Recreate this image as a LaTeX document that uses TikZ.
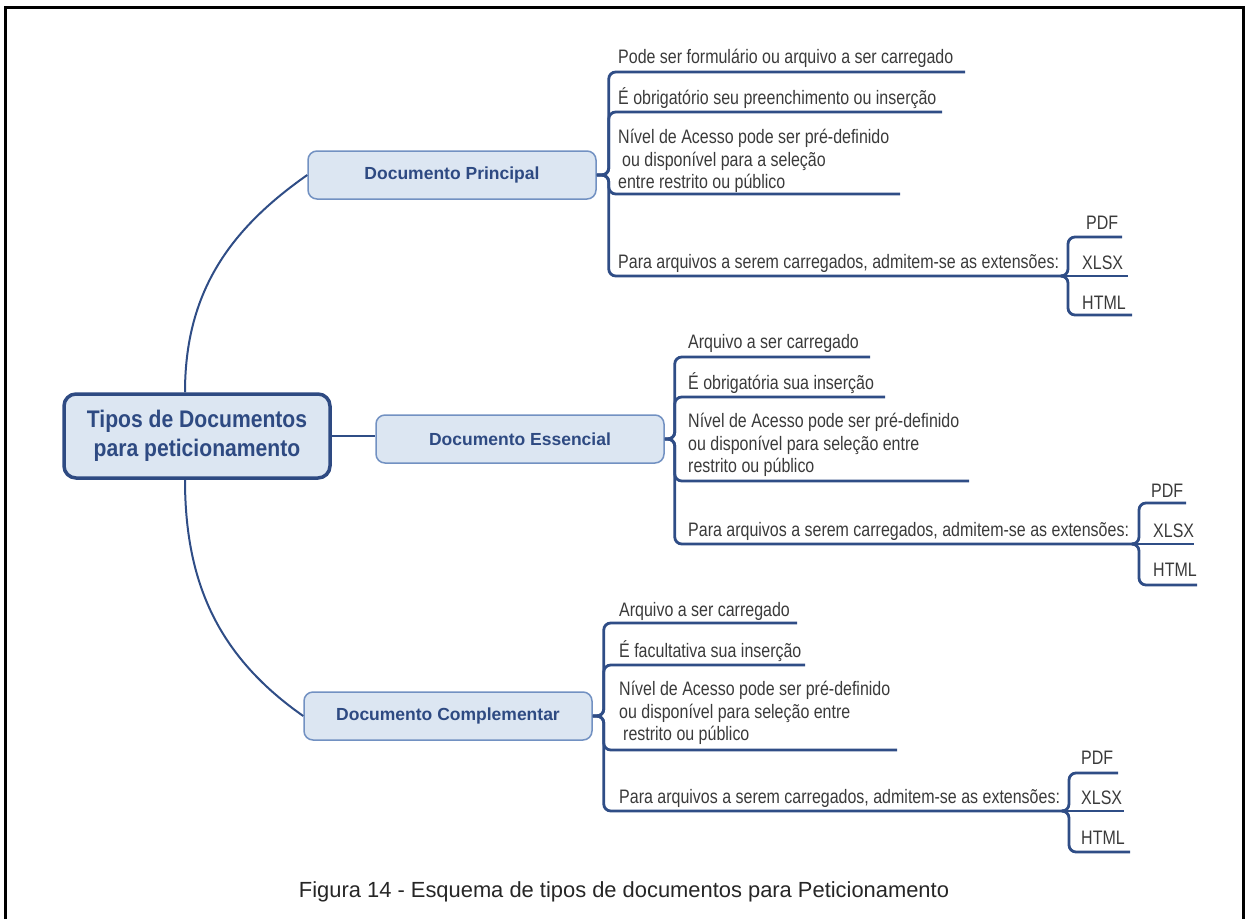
\documentclass[tikz,border=0pt]{standalone}
\usepackage{fontspec}
\setmainfont{Liberation Sans}
\newfontfamily\narrowfont[FakeStretch=0.82]{Liberation Sans}
\newfontfamily\rootfont[FakeStretch=0.88]{Liberation Sans}
\definecolor{linkblue}{HTML}{2F4D86}
\definecolor{boxfill}{HTML}{DCE6F2}
\definecolor{boxline}{HTML}{7291C2}
\definecolor{titleblue}{HTML}{2E4A82}
\definecolor{leafgrey}{HTML}{3A3A3A}
\tikzset{
  central/.style={draw=titleblue,line width=3.5pt,fill=boxfill,rounded corners=12pt,
    minimum width=266pt,minimum height=84pt,align=center,text=titleblue,
    font=\rootfont\fontsize{24}{29}\selectfont\bfseries},
  topic/.style={draw=boxline,line width=1.5pt,fill=boxfill,rounded corners=9pt,
    minimum width=288pt,minimum height=48pt,text=titleblue,
    font=\fontsize{17.5}{21}\selectfont\bfseries},
  leaf/.style={anchor=west,inner sep=0pt,align=left,text=leafgrey,
    font=\narrowfont\fontsize{19.5}{22.5}\selectfont},
  link/.style={draw=linkblue,line width=2pt},
  branch/.style={draw=linkblue,line width=2.8pt,rounded corners=7pt},
}
\begin{document}
\begin{tikzpicture}[x=1pt,y=-1pt]
  \useasboundingbox (0,0) rectangle (1245,919);
  \draw[line width=3pt] (5,919) -- (5,7) -- (1243,7) -- (1243,919);

  \node[central] (root) at (197,436) {Tipos de Documentos\\para peticionamento};
  \node[topic] (dp) at (452,175) {Documento Principal};
  \node[topic] (de) at (520,439) {Documento Essencial};
  \node[topic] (dc) at (448,716) {Documento Complementar};

  \draw[link] ([xshift=-12pt]root.north) to[out=90,in=215] (dp.west);
  \draw[link] (root.east) -- (root.east -| de.west);
  \draw[link] ([xshift=-12pt]root.south) to[out=270,in=145] (dc.west);

  % Documento Principal
  \node[leaf] (p1) at (618,58) {Pode ser formulário ou arquivo a ser carregado};
  \node[leaf] (p2) at (618,98) {É obrigatório seu preenchimento ou inserção};
  \node[leaf] (p3) at (618,161) {Nível de Acesso pode ser pré-definido\\\hspace*{4pt}ou disponível para a seleção\\entre restrito ou público};
  \node[leaf] (p4) at (618,263) {Para arquivos a serem carregados, admitem-se as extensões:};
  \node[leaf] (p4a) at (1086,223) {PDF};
  \node[leaf] (p4b) at (1082,263) {XLSX};
  \node[leaf] (p4c) at (1082,303) {HTML};
  \coordinate (p1e) at (965,72);
  \coordinate (p2e) at (942,112);
  \coordinate (p3e) at (900,194);
  \coordinate (p4e) at (1063,276);
  \draw[branch] (dp.east) -- ++(12,0) |- (p1e);
  \draw[branch] (dp.east) -- ++(12,0) |- (p2e);
  \draw[branch] (dp.east) -- ++(12,0) |- (p3e);
  \draw[branch] (dp.east) -- ++(12,0) |- (p4e);
  \draw[branch] (p4e) -- ++(5,0) |- (1122,237);
  \draw[branch] (p4e) -- (1128,276);
  \draw[branch] (p4e) -- ++(5,0) |- (1132,315);

  % Documento Essencial
  \node[leaf] (e1) at (688,343) {Arquivo a ser carregado};
  \node[leaf] (e2) at (688,383) {É obrigatória sua inserção};
  \node[leaf] (e3) at (688,445) {Nível de Acesso pode ser pré-definido\\ou disponível para seleção entre\\restrito ou público};
  \node[leaf] (e4) at (688,531) {Para arquivos a serem carregados, admitem-se as extensões:};
  \node[leaf] (e4a) at (1151,491) {PDF};
  \node[leaf] (e4b) at (1153,531) {XLSX};
  \node[leaf] (e4c) at (1153,570) {HTML};
  \coordinate (e1e) at (870,357);
  \coordinate (e2e) at (885,397);
  \coordinate (e3e) at (969,481);
  \coordinate (e4e) at (1134,544);
  \draw[branch] (de.east) -- ++(10,0) |- (e1e);
  \draw[branch] (de.east) -- ++(10,0) |- (e2e);
  \draw[branch] (de.east) -- ++(10,0) |- (e3e);
  \draw[branch] (de.east) -- ++(10,0) |- (e4e);
  \draw[branch] (e4e) -- ++(5,0) |- (1186,503);
  \draw[branch] (e4e) -- (1194,544);
  \draw[branch] (e4e) -- ++(5,0) |- (1197,585);

  % Documento Complementar
  \node[leaf] (c1) at (619,611) {Arquivo a ser carregado};
  \node[leaf] (c2) at (619,651) {É facultativa sua inserção};
  \node[leaf] (c3) at (619,713) {Nível de Acesso pode ser pré-definido\\ou disponível para seleção entre\\\hspace*{4pt}restrito ou público};
  \node[leaf] (c4) at (619,798) {Para arquivos a serem carregados, admitem-se as extensões:};
  \node[leaf] (c4a) at (1081,758) {PDF};
  \node[leaf] (c4b) at (1081,798) {XLSX};
  \node[leaf] (c4c) at (1081,838) {HTML};
  \coordinate (c1e) at (797,623);
  \coordinate (c2e) at (805,665);
  \coordinate (c3e) at (897,750);
  \coordinate (c4e) at (1064,811);
  \draw[branch] (dc.east) -- ++(11,0) |- (c1e);
  \draw[branch] (dc.east) -- ++(11,0) |- (c2e);
  \draw[branch] (dc.east) -- ++(11,0) |- (c3e);
  \draw[branch] (dc.east) -- ++(11,0) |- (c4e);
  \draw[branch] (c4e) -- ++(5,0) |- (1118,773);
  \draw[branch] (c4e) -- (1124,811);
  \draw[branch] (c4e) -- ++(5,0) |- (1130,852);

  \node[text=black!85,font=\fontsize{21.9}{26}\selectfont] (caption) at (624,892)
    {Figura 14 - Esquema de tipos de documentos para Peticionamento};
\end{tikzpicture}
\end{document}
